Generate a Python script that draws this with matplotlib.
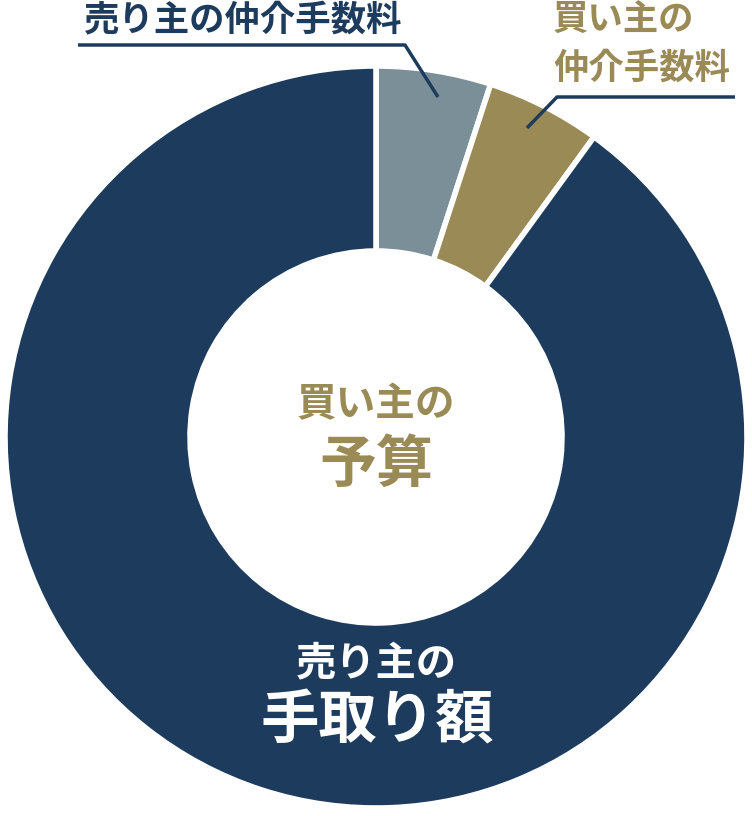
import matplotlib
matplotlib.use("Agg")
import matplotlib.pyplot as plt

plt.rcParams['font.family'] = ['Noto Sans CJK JP', 'DejaVu Sans']

# データ (上から時計回り)
labels = ["売り主の仲介手数料", "買い主の仲介手数料", "売り主の手取り額"]
values = [5, 5, 90]
colors = ["#7b8f98", "#9a8a55", "#1d3b5c"]

navy = "#1d3b5c"
gold = "#9a8a55"

W, H = 752, 816
fig = plt.figure(figsize=(W / 100, H / 100), dpi=100)
ax = fig.add_axes([0, 0, 1, 1])

cx, cy = 376, H - 437
R = 371
ax.pie(values, colors=colors, startangle=90, counterclock=False,
       center=(cx, cy), radius=R,
       wedgeprops=dict(width=R - 186, edgecolor="white", linewidth=4))
ax.set_xlim(0, W)
ax.set_ylim(0, H)
ax.set_aspect("equal")
ax.axis("off")

# 引き出し線
ax.plot([78, 405, 438], [H - 45, H - 45, H - 97], color=navy, lw=2.5,
        solid_capstyle="butt")
ax.plot([735, 557, 527], [H - 97, H - 97, H - 128], color=navy, lw=2.5,
        solid_capstyle="butt")

# ラベル
ax.text(243, H - 20, labels[0], color=navy, fontsize=25.5, fontweight="bold",
        ha="center", va="center")
ax.text(553, H - 20, "買い主の", color=gold, fontsize=25.5, fontweight="bold",
        ha="left", va="center")
ax.text(553, H - 68, "仲介手数料", color=gold, fontsize=25.5, fontweight="bold",
        ha="left", va="center")

# 中央と下部のテキスト
ax.text(376, H - 405, "買い主の", color=gold, fontsize=28.5, fontweight="bold",
        ha="center", va="center")
ax.text(376, H - 465, "予算", color=gold, fontsize=41, fontweight="bold",
        ha="center", va="center")
ax.text(376, H - 665, "売り主の", color="white", fontsize=29, fontweight="bold",
        ha="center", va="center")
ax.text(377, H - 722, "手取り額", color="white", fontsize=42, fontweight="bold",
        ha="center", va="center")

fig.savefig("out.png", dpi=100)
